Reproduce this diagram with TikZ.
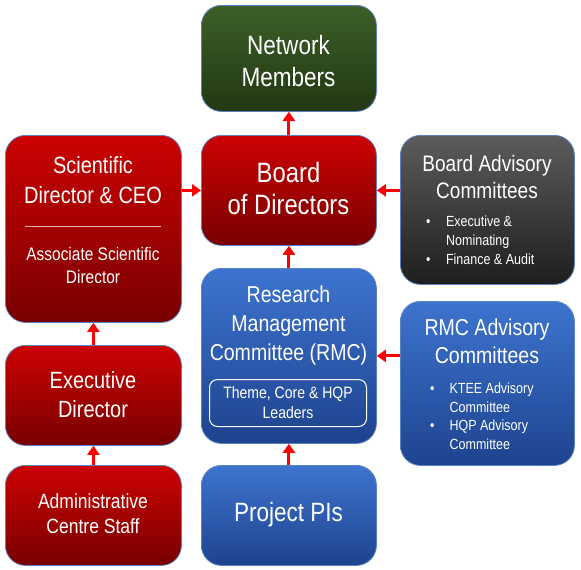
\documentclass[tikz,border=0pt]{standalone}
\usepackage{fontspec}
\setmainfont{Liberation Sans}[FakeStretch=0.85]
\usetikzlibrary{arrows.meta}
\definecolor{redT}{HTML}{CC0202}
\definecolor{redB}{HTML}{780000}
\definecolor{grnT}{HTML}{3C5F28}
\definecolor{grnB}{HTML}{223813}
\definecolor{gryT}{HTML}{5C5C5C}
\definecolor{gryB}{HTML}{1E1E1E}
\definecolor{bluT}{HTML}{3D74CF}
\definecolor{bluB}{HTML}{1E438E}
\definecolor{bordc}{HTML}{5A82C0}
\definecolor{arrc}{HTML}{FF0000}
\definecolor{divc}{HTML}{E8B4B4}
\tikzset{
  box/.style={rectangle, rounded corners=20pt, draw=bordc, line width=0.8pt, anchor=north west, inner sep=0pt},
  redbox/.style={box, top color=redT, bottom color=redB},
  grnbox/.style={box, top color=grnT, bottom color=grnB},
  grybox/.style={box, top color=gryT, bottom color=gryB},
  blubox/.style={box, top color=bluT, bottom color=bluB},
  txt/.style={text=white, align=center, inner sep=0pt},
  btxt/.style={text=white, align=left, inner sep=0pt, anchor=north west},
  arr/.style={draw=arrc, line width=3pt, -{Triangle[width=12pt,length=9pt]}},
}
\newcommand{\fs}[2]{\fontsize{#1}{#2}\selectfont}
\begin{document}
\begin{tikzpicture}[x=1pt,y=-1pt]
\useasboundingbox (0,0) rectangle (581,570);
% boxes
\node[grnbox, minimum width=175pt, minimum height=106pt] (nm) at (201,5) {};
\node[redbox, minimum width=175pt, minimum height=110pt] (bod) at (201,135) {};
\node[redbox, minimum width=176pt, minimum height=187pt] (sci) at (5,135) {};
\node[grybox, minimum width=174pt, minimum height=149pt] (bam) at (400,135) {};
\node[blubox, minimum width=175pt, minimum height=175pt] (rmc) at (201,268) {};
\node[blubox, minimum width=174pt, minimum height=164pt] (rma) at (400,301) {};
\node[redbox, minimum width=176pt, minimum height=100pt] (exd) at (5,345) {};
\node[redbox, minimum width=176pt, minimum height=100pt] (adm) at (5,465) {};
\node[blubox, minimum width=175pt, minimum height=100pt] (pis) at (201,465) {};
% texts
\node[txt, font=\fs{26.5}{32}] (nmt) at (288.5,61) {Network\\Members};
\node[txt, font=\fs{28}{32}] (bodt) at (288.5,188) {Board\\of Directors};
\node[txt, font=\fs{23.5}{30}] (scit) at (93,180) {Scientific\\Director \& CEO};
\draw[divc, line width=1pt] (25,226) -- (161,226);
\node[txt, font=\fs{18.2}{23}] (asdt) at (93,265) {Associate Scientific\\Director};
\node[txt, font=\fs{22.4}{27}] (bamt) at (487,177) {Board Advisory\\Committees};
\node[btxt, font=\fs{14.7}{19}] (baml) at (426,216) {\textbullet\hspace{15.5pt}Executive \&\\\hspace{20pt}Nominating\\\textbullet\hspace{15.5pt}Finance \& Audit};
\node[txt, font=\fs{23}{29}] (rmct) at (288.5,326) {Research\\Management\\Committee (RMC)};
\node[box, rounded corners=8pt, draw=white, line width=1pt, minimum width=157pt, minimum height=47pt] (tcl) at (209,379) {};
\node[txt, font=\fs{16.5}{20}] (tclt) at (tcl.center) {Theme, Core \& HQP\\Leaders};
\node[txt, font=\fs{23}{28}] (rmat) at (487,341) {RMC Advisory\\Committees};
\node[btxt, font=\fs{14.7}{18.5}] (rmal) at (430,383) {\textbullet\hspace{15pt}KTEE Advisory\\\hspace{19.5pt}Committee\\\textbullet\hspace{15pt}HQP Advisory\\\hspace{19.5pt}Committee};
\node[txt, font=\fs{23.5}{29}] (exdt) at (93,395) {Executive\\Director};
\node[txt, font=\fs{20.6}{25}] (admt) at (93,514) {Administrative\\Centre Staff};
\node[txt, font=\fs{26.5}{28}] (pist) at (288.5,515) {Project PIs};
% arrows
\draw[arr] (bod.north) -- (nm.south);
\draw[arr] (sci.east |- bod.west) -- (bod.west);
\draw[arr] (bam.west |- bod.east) -- (bod.east);
\draw[arr] (rmc.north) -- (bod.south);
\draw[arr] (exd.north) -- (sci.south);
\draw[arr] (adm.north) -- (exd.south);
\draw[arr] (pis.north) -- (rmc.south);
\draw[arr] (rma.west |- rmc.east) -- (rmc.east);
\end{tikzpicture}
\end{document}
